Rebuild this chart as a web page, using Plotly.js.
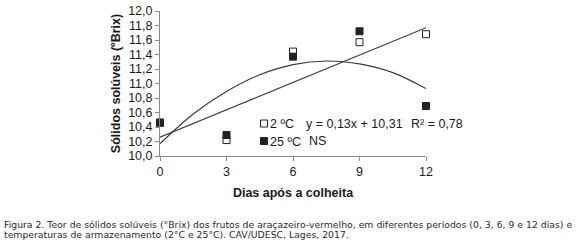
<!DOCTYPE html>
<html>
<head>
<meta charset="utf-8">
<script src="https://cdn.plot.ly/plotly-3.0.1.min.js"></script>
<style>html,body{margin:0;padding:0;background:#fff;}#chart{width:580px;height:247px;}</style>
</head>
<body>
<div id="chart"></div>
<script>
// Data
const days = [0, 3, 6, 9, 12];
const temp2C = [10.46, 10.22, 11.44, 11.57, 11.68];
const temp25C = [10.46, 10.29, 11.37, 11.72, 10.69];
// Trend lines as drawn in the figure
const linX = [0, 12];
const linY = [10.26, 11.77];
const quadX = [0, 1.5, 3, 4.5, 6, 7.5, 9, 10.5, 12];
const quadY = [10.17, 10.58, 10.89, 11.12, 11.26, 11.31, 11.27, 11.15, 10.93];
const xTicks = [0, 3, 6, 9, 12];
const yTicks = [10.0, 10.2, 10.4, 10.6, 10.8, 11.0, 11.2, 11.4, 11.6, 11.8, 12.0];
const legend2 = "2 ºC";
const eq2 = "y = 0,13x + 10,31";
const r2 = "R² = 0,78";
const legend25 = "25 ºC";
const ns25 = "NS";
const xTitle = "Dias após a colheita";
const yTitle = "Sólidos solúveis (ºBrix)";
const caption1 = "Figura 2. Teor de sólidos solúveis (°Brix) dos frutos de araçazeiro-vermelho, em diferentes períodos (0, 3, 6, 9 e 12 dias) e";
const caption2 = "temperaturas de armazenamento (2°C e 25°C). CAV/UDESC, Lages, 2017.";

const lineColor = '#3a3a3a';
const traces = [
  {x: linX, y: linY, mode: 'lines', line: {color: lineColor, width: 1.2}, cliponaxis: false, hoverinfo: 'skip'},
  {x: quadX, y: quadY, mode: 'lines', line: {color: lineColor, width: 1.2, shape: 'spline'}, cliponaxis: false, hoverinfo: 'skip'},
  {x: days, y: temp2C, mode: 'markers', marker: {symbol: 'square', size: 7, color: '#ffffff', line: {color: '#222', width: 1}}, cliponaxis: false},
  {x: days, y: temp25C, mode: 'markers', marker: {symbol: 'square', size: 7, color: '#222', line: {color: '#222', width: 1}}, cliponaxis: false}
];

// plot area in px: x 160..426, y 11..156
const L = 160, R = 426, T = 11, B = 156;
const px = v => (v - L) / (R - L);
const py = v => (B - v) / (B - T);

const txtFont = {family: 'Liberation Sans, Arial, sans-serif', size: 12.5, color: '#1a1a1a'};
const capFont = {family: 'DejaVu Sans, sans-serif', size: 9.3, color: '#2a2a2a'};
const annotations = [
  {xref: 'paper', yref: 'paper', x: px(268), y: py(123.5), xanchor: 'left', yanchor: 'middle', text: legend2, showarrow: false, font: txtFont},
  {xref: 'paper', yref: 'paper', x: px(304), y: py(123.5), xanchor: 'left', yanchor: 'middle', text: eq2, showarrow: false, font: txtFont},
  {xref: 'paper', yref: 'paper', x: px(409), y: py(123.5), xanchor: 'left', yanchor: 'middle', text: r2, showarrow: false, font: txtFont},
  {xref: 'paper', yref: 'paper', x: px(268), y: py(141.5), xanchor: 'left', yanchor: 'middle', text: legend25, showarrow: false, font: txtFont},
  {xref: 'paper', yref: 'paper', x: px(307), y: py(140.5), xanchor: 'left', yanchor: 'middle', text: ns25, showarrow: false, font: txtFont},
  {xref: 'paper', yref: 'paper', x: px(2), y: py(224.5), xanchor: 'left', yanchor: 'middle', text: caption1, showarrow: false, font: capFont},
  {xref: 'paper', yref: 'paper', x: px(2), y: py(234.5), xanchor: 'left', yanchor: 'middle', text: caption2, showarrow: false, font: capFont}
];
const shapes = [
  {type: 'rect', xref: 'paper', yref: 'paper', x0: px(260.5), x1: px(267.5), y0: py(127), y1: py(120), line: {color: '#222', width: 1}, fillcolor: '#fff'},
  {type: 'rect', xref: 'paper', yref: 'paper', x0: px(260.5), x1: px(267.5), y0: py(144.5), y1: py(137.5), line: {color: '#222', width: 1}, fillcolor: '#222'}
];

const layout = {
  width: 580, height: 247,
  margin: {l: L, r: 580 - R, t: T, b: 247 - B, pad: 0},
  paper_bgcolor: '#fff', plot_bgcolor: '#fff',
  showlegend: false,
  separators: ',.',
  font: {family: 'Liberation Sans, Arial, sans-serif', color: '#1a1a1a'},
  xaxis: {
    range: [0, 12], tickvals: xTicks, ticktext: xTicks.map(String),
    showgrid: false, zeroline: false, showline: true, linecolor: '#8a8a8a', linewidth: 1,
    ticks: 'outside', ticklen: 4, tickcolor: '#8a8a8a', tickfont: {size: 12.5, color: '#1a1a1a'},
    title: {text: xTitle, font: {size: 12.5, color: '#1a1a1a', weight: 'bold'}, standoff: 10}
  },
  yaxis: {
    range: [10, 12], tickvals: yTicks, tickformat: '.1f',
    showgrid: false, zeroline: false, showline: true, linecolor: '#8a8a8a', linewidth: 1,
    ticks: 'outside', ticklen: 4, tickcolor: '#8a8a8a', tickfont: {size: 12.5, color: '#1a1a1a'},
    title: {text: yTitle, font: {size: 12.5, color: '#1a1a1a', weight: 'bold'}, standoff: 4}
  },
  annotations: annotations,
  shapes: shapes
};
Plotly.newPlot('chart', traces, layout, {staticPlot: true, displayModeBar: false});
</script>
</body>
</html>
